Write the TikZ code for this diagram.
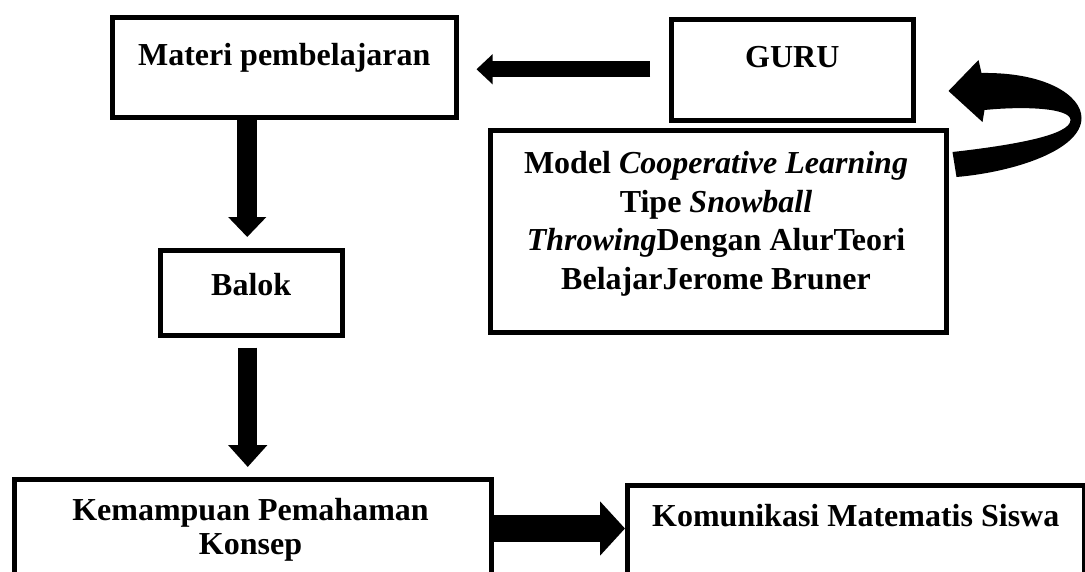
\documentclass[tikz,border=0pt]{standalone}
\usepackage{fontspec}
\setmainfont{Liberation Serif}
\usetikzlibrary{arrows.meta,calc}
\begin{document}
\begin{tikzpicture}[x=1pt,y=-1pt,
  box/.style={draw=black, line width=4.5pt, inner xsep=0pt, inner ysep=0pt, anchor=north west,
    font=\fontsize{32}{38.5}\selectfont\bfseries},
  txt/.style={inner sep=0pt, align=center, anchor=north, font=\fontsize{32}{38.5}\selectfont\bfseries},
  fatarrow/.style={draw=black, line cap=butt}]
\useasboundingbox (0,0) rectangle (1085,571);
\fill[white] (0,0) rectangle (1085,571);

% boxes
\node[box, minimum width=344pt, text height=48pt, text depth=52pt] (materi) at (110,15) {Materi pembelajaran};
\node[box, minimum width=242pt, text height=48pt, text depth=53pt] (guru) at (669,17) {GURU};
\node[box, minimum width=456pt, minimum height=202pt] (model) at (488,128) {};
\node[txt] (modeltext) at (716,151.5) {Model \textit{Cooperative Learning}\\Tipe \textit{Snowball}\\\textit{Throwing}Dengan AlurTeori\\BelajarJerome Bruner};
\node[box, minimum width=182pt, text height=45pt, text depth=40pt] (balok) at (158,248) {Balok};
\node[box, minimum width=477pt, minimum height=140pt] (kemampuan) at (12,477) {};
\node[txt, font=\fontsize{32}{34}\selectfont\bfseries] (kemtext) at (250.5,498.5) {Kemampuan Pemahaman\\Konsep};
\node[box, minimum width=457pt, text height=41pt, text depth=106pt] (komunikasi) at (625,483) {Komunikasi Matematis Siswa};

% GURU -> Materi
\draw[fatarrow, line width=16pt, -{Triangle[width=29pt,length=16pt]}]
  ([xshift=-19pt,yshift=0.5pt]guru.west) -- ([xshift=18pt,yshift=0.5pt]guru.west -| materi.east);
% Materi -> Balok
\draw[fatarrow, line width=20pt, -{Triangle[width=37pt,length=20pt]}]
  ([xshift=-4pt]balok.north |- materi.south) -- ([xshift=-4pt,yshift=11pt]balok.north);
% Balok -> Kemampuan
\coordinate (dstart) at ([xshift=-3.5pt,yshift=-10pt]balok.south);
\draw[fatarrow, line width=19pt, shorten >=10pt, -{Triangle[width=38pt,length=22pt]}]
  (dstart) -- (dstart |- kemampuan.north);
% Kemampuan -> Komunikasi
\coordinate (rstart) at ($(kemampuan.north east)+(0,51.5)$);
\draw[fatarrow, line width=27pt, -{Triangle[width=53pt,length=25pt]}]
  (rstart) -- (rstart -| komunikasi.west);

% curved arrow Model -> GURU
\begin{scope}[shift={(model.north east)}]
\fill[black] (0,-37) -- (30,-68) -- (33,-55)
  .. controls (96,-56) and (133,-33) .. (133,-10)
  .. controls (133,22) and (66,44) .. (8,49)
  -- (4,24)
  .. controls (66,17) and (122,7) .. (122,-8)
  .. controls (122,-20) and (76,-22) .. (36,-18)
  -- (34,-6) -- cycle;
\end{scope}
\end{tikzpicture}
\end{document}
